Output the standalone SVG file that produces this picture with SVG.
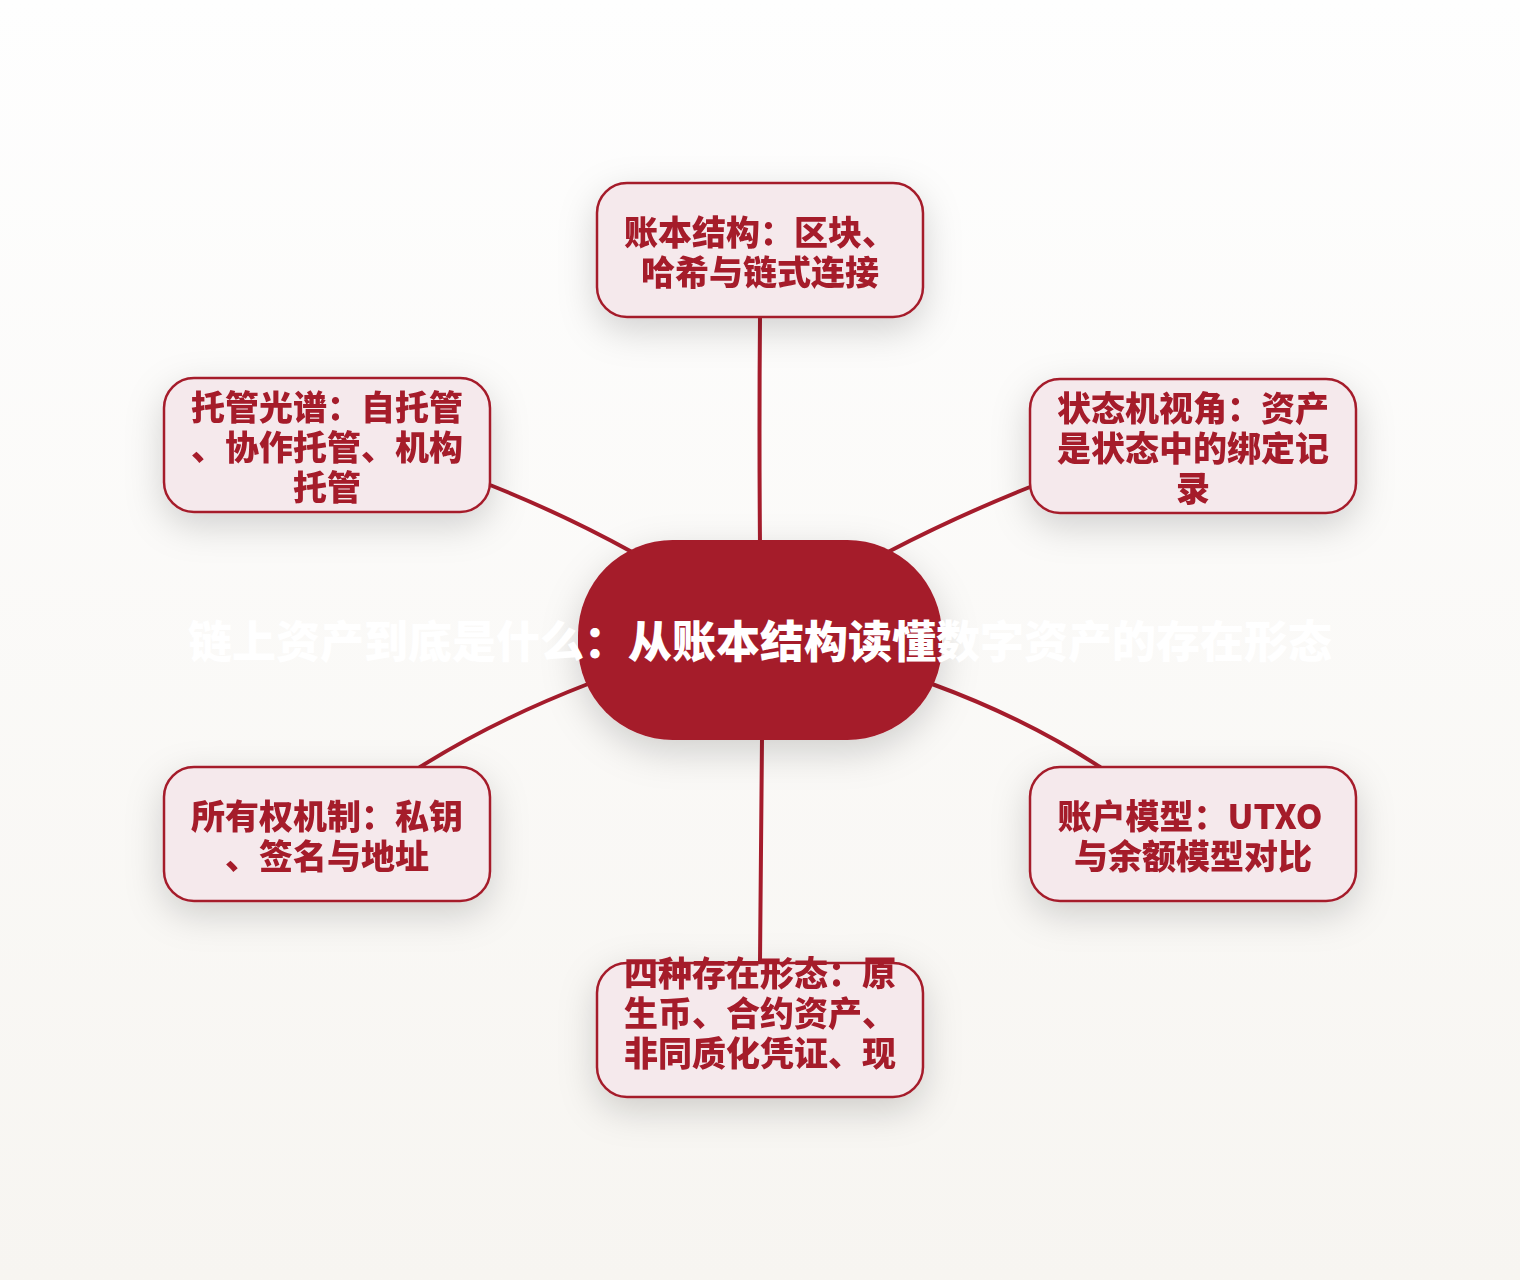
<svg xmlns="http://www.w3.org/2000/svg" width="1520" height="1280" viewBox="0 0 1520 1280">
  <defs>
    <linearGradient id="bg" x1="0" y1="0" x2="0" y2="1">
      <stop offset="0" stop-color="#fefefe"/>
      <stop offset="1" stop-color="#f7f5f1"/>
    </linearGradient>
    <filter id="shadow" x="-40%" y="-50%" width="180%" height="210%">
      <feDropShadow dx="0" dy="12" stdDeviation="18" flood-color="#000" flood-opacity="0.17"/>
    </filter>
    <style>
      .node { fill: #f5e9ec; stroke: #a51c2c; stroke-width: 2.5; }
      .label { fill: #a51c2c; font-family: "Noto Sans CJK SC", "Noto Sans", "Liberation Sans", sans-serif; font-weight: 900; font-size: 34px; text-anchor: middle; }
      .title { fill: #ffffff; font-family: "Noto Sans CJK SC", "Noto Sans", "Liberation Sans", sans-serif; font-weight: 900; font-size: 44px; text-anchor: middle; }
      .edge { fill: none; stroke: #a51c2c; stroke-width: 4; stroke-linecap: round; }
    </style>
  </defs>
  <rect x="0" y="0" width="1520" height="1280" fill="url(#bg)"/>

  <g id="connectors">
    <path class="edge" d="M760,317 Q759,430 760,545"/>
    <path class="edge" d="M490,485 Q565,515 632,552"/>
    <path class="edge" d="M1030,487 Q955,517 888,552"/>
    <path class="edge" d="M420,767 Q495,720 588,684"/>
    <path class="edge" d="M1100,767 Q1025,718 932,684"/>
    <path class="edge" d="M762,738 Q761,850 760,962"/>
  </g>

  <g id="node-ledger" filter="url(#shadow)">
    <rect class="node" x="597" y="183" width="326" height="134" rx="30"/>
    <text class="label" x="760" y="245">账本结构：区块、</text>
    <text class="label" x="760" y="285">哈希与链式连接</text>
  </g>

  <g id="node-custody" filter="url(#shadow)">
    <rect class="node" x="164" y="378" width="326" height="134" rx="30"/>
    <text class="label" x="327" y="420">托管光谱：自托管</text>
    <text class="label" x="327" y="460">、协作托管、机构</text>
    <text class="label" x="327" y="500">托管</text>
  </g>

  <g id="node-statemachine" filter="url(#shadow)">
    <rect class="node" x="1030" y="379" width="326" height="134" rx="30"/>
    <text class="label" x="1193" y="421">状态机视角：资产</text>
    <text class="label" x="1193" y="461">是状态中的绑定记</text>
    <text class="label" x="1193" y="501">录</text>
  </g>

  <g id="node-ownership" filter="url(#shadow)">
    <rect class="node" x="164" y="767" width="326" height="134" rx="30"/>
    <text class="label" x="327" y="829">所有权机制：私钥</text>
    <text class="label" x="327" y="869">、签名与地址</text>
  </g>

  <g id="node-account" filter="url(#shadow)">
    <rect class="node" x="1030" y="767" width="326" height="134" rx="30"/>
    <text class="label" x="1190" y="829">账户模型：UTXO</text>
    <text class="label" x="1193" y="869">与余额模型对比</text>
  </g>

  <g id="node-forms" filter="url(#shadow)">
    <rect class="node" x="597" y="963" width="326" height="134" rx="30"/>
    <text class="label" x="760" y="986">四种存在形态：原</text>
    <text class="label" x="760" y="1026">生币、合约资产、</text>
    <text class="label" x="760" y="1066">非同质化凭证、现</text>
  </g>

  <g id="node-center">
    <rect x="578" y="540" width="364" height="200" rx="95" fill="#a51b2b" filter="url(#shadow)"/>
    <text class="title" x="760" y="658">链上资产到底是什么：从账本结构读懂数字资产的存在形态</text>
  </g>
</svg>
